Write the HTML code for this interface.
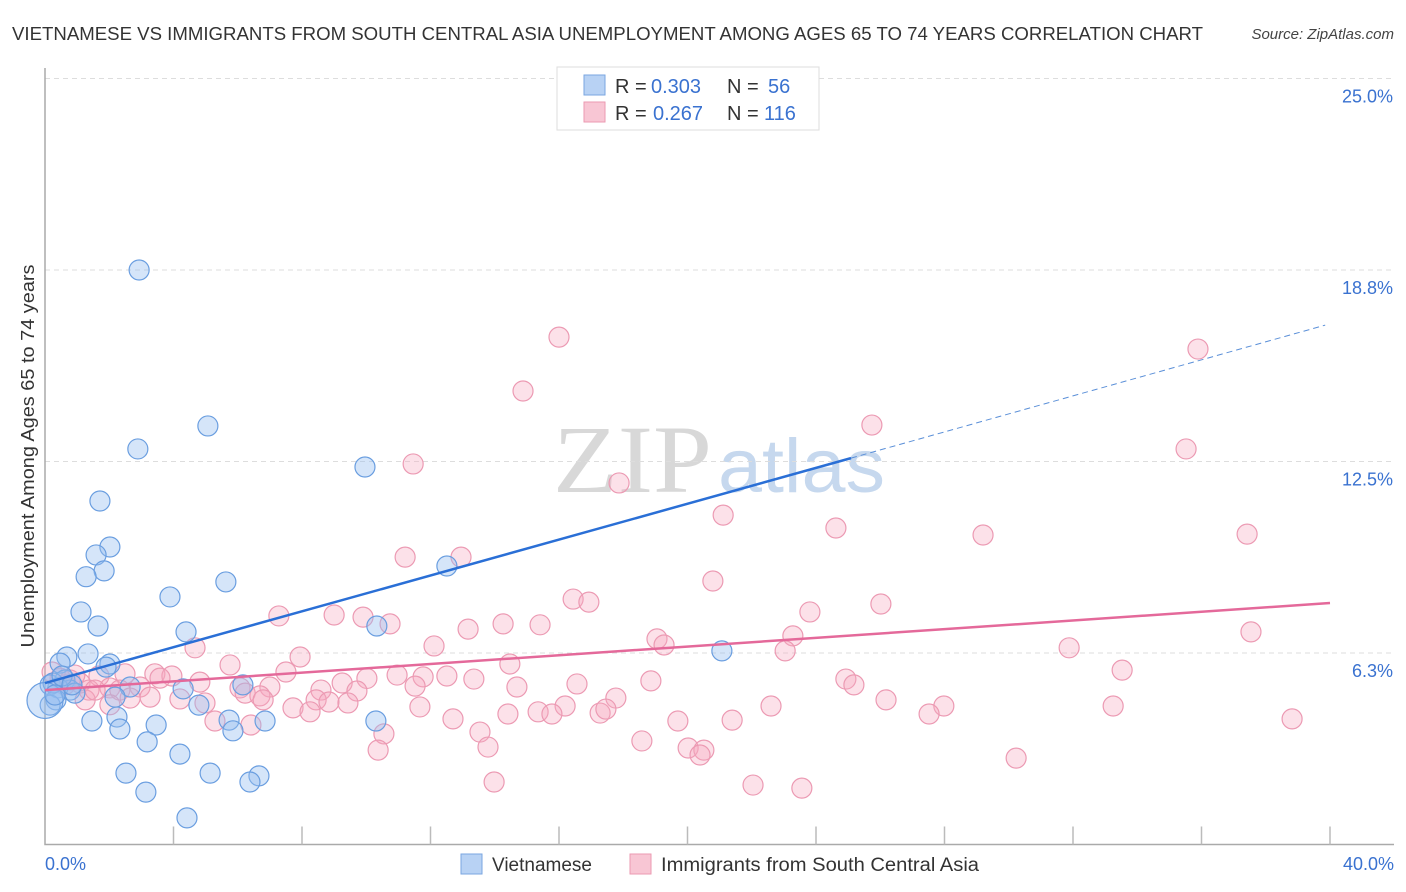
<!DOCTYPE html>
<html><head><meta charset="utf-8"><style>
body{margin:0;background:#fff;font-family:"Liberation Sans",sans-serif;}
svg{display:block}
</style></head><body>
<svg id="chart" width="1406" height="892" xmlns="http://www.w3.org/2000/svg">
<text x="12" y="40" font-size="18" fill="#333" textLength="1191" lengthAdjust="spacingAndGlyphs">VIETNAMESE VS IMMIGRANTS FROM SOUTH CENTRAL ASIA UNEMPLOYMENT AMONG AGES 65 TO 74 YEARS CORRELATION CHART</text>
<text x="1394" y="39" font-size="15" fill="#444" font-style="italic" text-anchor="end">Source: ZipAtlas.com</text>
<text x="553" y="492" font-size="96" font-family="Liberation Serif" fill="#d8d8d8" textLength="159" lengthAdjust="spacingAndGlyphs">ZIP</text>
<text x="718" y="492" font-size="76" fill="#c6d8ee" textLength="167" lengthAdjust="spacingAndGlyphs">atlas</text>
<g id="grid"></g>
<g id="axes"></g>
<g id="pink"></g>
<g id="blue"></g>
<g id="trends"></g>
<text transform="translate(34,456) rotate(-90)" font-size="18" fill="#333" text-anchor="middle" textLength="383" lengthAdjust="spacingAndGlyphs">Unemployment Among Ages 65 to 74 years</text>
<g font-size="20">
<rect x="557" y="67" width="262" height="63" fill="#fff" stroke="#ddd"/>
<rect x="584" y="75" width="21" height="20" fill="#b8d2f4" stroke="#7aa6e0"/>
<rect x="584" y="102" width="21" height="20" fill="#f8c6d4" stroke="#eb9ab2"/>
<text x="615" y="93" fill="#333">R =</text>
<text x="651" y="93" fill="#3a72d0">0.303</text>
<text x="727" y="93" fill="#333">N =</text>
<text x="768" y="93" fill="#3a72d0">56</text>
<text x="615" y="120" fill="#333">R =</text>
<text x="653" y="120" fill="#3a72d0">0.267</text>
<text x="727" y="120" fill="#333">N =</text>
<text x="764" y="120" fill="#3a72d0">116</text>
</g>
<g>
<rect x="461" y="854" width="21" height="20" fill="#b8d2f4" stroke="#7aa6e0"/>
<text x="492" y="871" font-size="19" fill="#333">Vietnamese</text>
<rect x="630" y="854" width="21" height="20" fill="#f8c6d4" stroke="#eb9ab2"/>
<text x="661" y="871" font-size="19" fill="#333" textLength="318" lengthAdjust="spacingAndGlyphs">Immigrants from South Central Asia</text>
</g>
</svg>
<script>
const yTicks=[6.25,12.5,18.75,25];
const yTickLabels=["6.3%","12.5%","18.8%","25.0%"];
const xTicks=[0,4,8,12,16,20,24,28,32,36,40];
const blueX=[2.93,5.07,2.89,9.96,1.71,2.02,1.59,12.51,1.84,1.28,5.63,3.89,1.12,1.65,10.33,4.39,1.34,0.68,2.02,1.90,0.47,21.07,6.16,4.30,2.65,0.16,0.62,0.78,0.40,2.18,4.79,0.34,0.16,1.46,2.24,2.33,3.46,5.73,5.85,6.85,10.30,3.18,4.20,2.52,5.14,6.66,6.38,3.14,4.42,18.21,0.25,0.53,0.93,0.0,0.31,0.84];
const blueY=[18.75,13.66,12.91,12.32,11.21,9.71,9.45,9.09,8.93,8.74,8.57,8.08,7.59,7.13,7.13,6.94,6.22,6.12,5.89,5.79,5.92,6.32,5.21,5.08,5.14,5.21,5.37,5.04,5.11,4.81,4.55,4.72,4.55,4.03,4.16,3.77,3.90,4.06,3.71,4.03,4.03,3.35,2.95,2.33,2.33,2.24,2.04,1.71,0.87,23.74,5.27,5.50,4.94,4.70,4.88,5.21];
const pinkX=[16.00,35.89,14.88,25.74,11.46,35.52,17.87,21.11,24.62,29.20,37.42,11.21,12.95,20.79,16.44,16.93,26.02,23.81,7.28,9.00,9.90,10.74,14.26,15.41,13.17,37.54,19.05,19.27,23.28,4.67,12.11,31.88,23.04,7.94,5.76,14.47,33.53,7.50,3.42,3.95,1.68,2.49,3.58,10.02,10.96,11.77,12.51,13.35,9.25,4.82,16.56,18.86,24.93,25.18,0.22,0.47,1.09,2.02,2.96,2.33,6.07,7.00,8.59,9.71,11.52,14.69,1.37,1.25,2.65,3.27,4.20,4.98,6.23,6.69,6.79,8.44,8.84,9.43,17.77,26.18,7.72,8.25,11.67,15.35,16.19,17.28,17.46,22.60,27.98,33.25,14.41,15.78,5.29,6.41,12.70,19.70,21.39,27.52,38.82,10.55,13.54,18.58,13.79,10.37,20.02,20.51,20.39,30.23,13.98,22.04,23.56,2.02,0.78,0.62,1.56,0.93];
const pinkY=[16.56,16.17,14.80,13.69,12.42,12.91,11.80,10.75,10.33,10.10,10.13,9.38,9.38,8.60,8.01,7.91,7.85,7.59,7.46,7.49,7.42,7.20,7.20,7.17,7.03,6.94,6.71,6.51,6.81,6.42,6.48,6.42,6.32,6.12,5.86,5.89,5.69,5.63,5.57,5.50,5.50,5.57,5.43,5.42,5.53,5.47,5.50,5.40,5.27,5.30,5.24,5.34,5.40,5.21,5.63,5.43,5.27,5.11,5.14,5.04,5.11,5.14,5.04,5.01,5.17,5.14,5.04,4.72,4.78,4.81,4.75,4.62,4.94,4.85,4.72,4.72,4.65,4.62,4.78,4.72,4.46,4.33,4.49,4.33,4.52,4.29,4.42,4.52,4.52,4.52,4.26,4.26,4.03,3.90,4.10,4.03,4.06,4.26,4.10,3.61,3.67,3.38,3.18,3.08,3.15,3.08,2.92,2.82,2.04,1.94,1.84,4.56,5.37,5.21,5.04,5.53];
const blueTrend=[0,5.27,25.09,12.61,39.85,16.95];
const pinkTrend=[0,5.04,40,7.88];
const NS="http://www.w3.org/2000/svg";
const X=v=>45+v*32.125, Y=v=>844.5-v*30.64;
function mk(t,a,p){const e=document.createElementNS(NS,t);for(const k in a)e.setAttribute(k,a[k]);document.getElementById(p).appendChild(e);return e;}
yTicks.forEach((t,i)=>{
 const l=mk('line',{x1:45,x2:1394,y1:Y(t),y2:Y(t),stroke:'#ddd','stroke-dasharray':'5,4'},'grid');
 
 
 const tx=mk('text',{x:1393,y:Y(t)+24,'font-size':18,fill:'#3a72d0','text-anchor':'end'},'grid');
 tx.textContent=yTickLabels[i];
 
 
});
const ax=mk('path',{d:`M45,68V${Y(0)}H1394`,stroke:'#aaa',fill:'none','stroke-width':1.5},'axes');


xTicks.forEach((t,i)=>{if(i===0)return;
 const l=mk('line',{x1:X(t),x2:X(t),y1:Y(0),y2:Y(0)-18,stroke:'#bbb','stroke-width':1.5},'axes');
 
 
});
[["0.0%",X(0),'start'],["40.0%",1394,'end']].forEach(a=>{
 const t=mk('text',{x:a[1],y:870,'font-size':18,fill:'#3a72d0','text-anchor':a[2]},'axes');
 t.textContent=a[0];
 
 
});
pinkX.forEach((v,i)=>{
 const c=mk('circle',{cx:X(v),cy:Y(pinkY[i]),r:10,fill:'rgba(245,170,192,0.35)',stroke:'#ec9ab3','stroke-width':1.2},'pink');
 
 
});
blueX.forEach((v,i)=>{
 const c=mk('circle',{cx:X(v),cy:Y(blueY[i]),r:(v===0?18:10),fill:'rgba(150,190,240,0.4)',stroke:'#6a9ee0','stroke-width':1.2},'blue');
 
 
});
let t1=mk('line',{x1:X(blueTrend[0]),y1:Y(blueTrend[1]),x2:X(blueTrend[2]),y2:Y(blueTrend[3]),stroke:'#2a6fd6','stroke-width':2.5},'trends');


let t2=mk('line',{x1:X(blueTrend[2]),y1:Y(blueTrend[3]),x2:X(blueTrend[4]),y2:Y(blueTrend[5]),stroke:'#5a8fd8','stroke-width':1,'stroke-dasharray':'6,4'},'trends');


let t3=mk('line',{x1:X(pinkTrend[0]),y1:Y(pinkTrend[1]),x2:X(pinkTrend[2]),y2:Y(pinkTrend[3]),stroke:'#e4699a','stroke-width':2.5},'trends');


</script>
</body></html>
